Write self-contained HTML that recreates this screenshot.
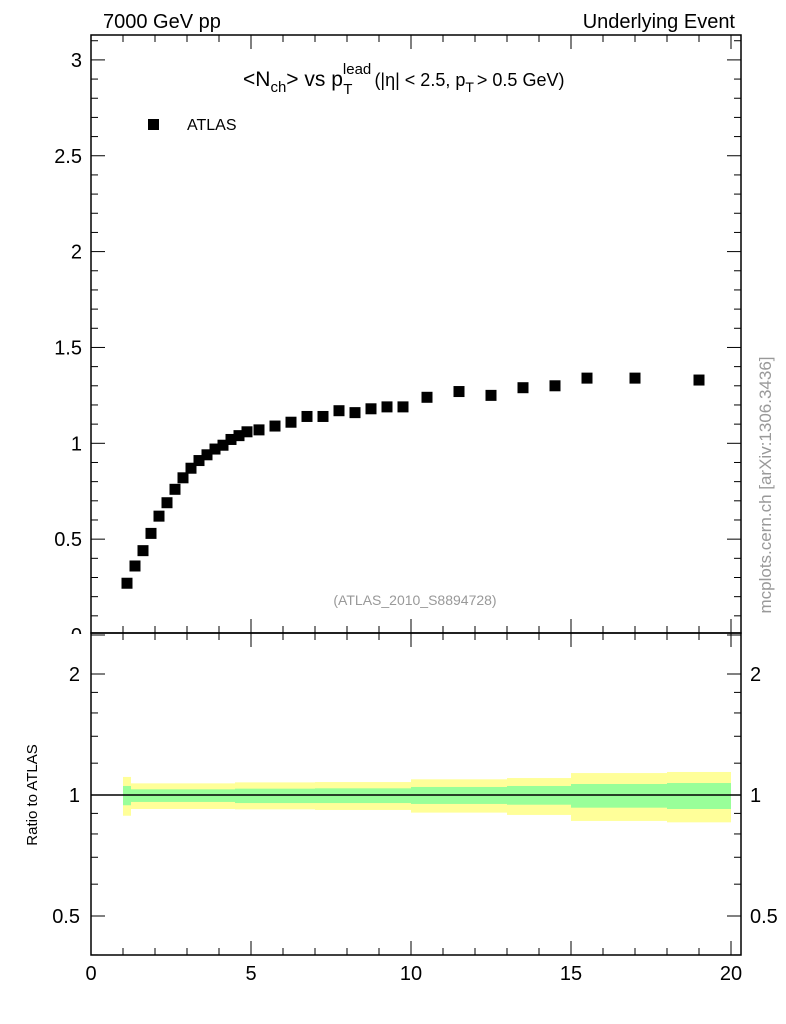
<!DOCTYPE html>
<html><head><meta charset="utf-8"><style>
body{margin:0;background:#fff;}
svg{display:block;font-family:"Liberation Sans",sans-serif;}
</style></head><body>
<svg id="c" width="786" height="1024" xmlns="http://www.w3.org/2000/svg">
<text x="103" y="28" font-size="20">7000 GeV pp</text>
<text x="735" y="28" font-size="20" text-anchor="end">Underlying Event</text>
<text x="243" y="86" font-size="21">&lt;N<tspan font-size="15" dy="6">ch</tspan><tspan dy="-6">&gt; vs p</tspan><tspan font-size="15" dy="-12">lead</tspan><tspan font-size="15" dx="-28" dy="20">T</tspan><tspan font-size="18" dx="22" dy="-8">(|η| &lt; 2.5, p</tspan><tspan font-size="14" dy="6">T</tspan><tspan font-size="18" dx="3" dy="-6">&gt; 0.5 GeV)</tspan></text>
<rect x="148" y="119" width="11" height="11" fill="#000"/>
<text x="187" y="130" font-size="16">ATLAS</text>
<text x="415" y="605" font-size="14" fill="#999" text-anchor="middle">(ATLAS_2010_S8894728)</text>
<text transform="translate(771,485) rotate(-90)" font-size="17" fill="#999" text-anchor="middle">mcplots.cern.ch [arXiv:1306.3436]</text>
<text transform="translate(37,795) rotate(-90)" font-size="15" text-anchor="middle">Ratio to ATLAS</text>
<g id="g"></g>
</svg>
<script>
const xCenters=[1.125,1.375,1.625,1.875,2.125,2.375,2.625,2.875,3.125,3.375,3.625,3.875,4.125,4.375,4.625,4.875,5.25,5.75,6.25,6.75,7.25,7.75,8.25,8.75,9.25,9.75,10.5,11.5,12.5,13.5,14.5,15.5,17,19];
const nch=[0.27,0.36,0.44,0.53,0.62,0.69,0.76,0.82,0.87,0.91,0.94,0.97,0.99,1.02,1.04,1.06,1.07,1.09,1.11,1.14,1.14,1.17,1.16,1.18,1.19,1.19,1.24,1.27,1.25,1.29,1.30,1.34,1.34,1.33];
const bandEdges=[1.0,1.25,4.5,7,10,13,15,18,20];
const yellowHi=[1.109,1.069,1.075,1.077,1.094,1.102,1.134,1.141];
const greenHi=[1.053,1.033,1.037,1.039,1.047,1.053,1.065,1.071];
const greenLo=[0.943,0.961,0.955,0.955,0.950,0.946,0.930,0.923];
const yellowLo=[0.888,0.923,0.921,0.918,0.904,0.892,0.862,0.855];
const xTicks=[0,5,10,15,20];
const yTicks=[0.5,1,1.5,2,2.5,3];
const rTicks=[0.5,1,2];

const L=91,R=741,T=35,M=633,B=955;
const X=v=>L+v*32;
const Y=v=>635-v*191.7;
const RY=v=>795-Math.log2(v)*121;
const g=document.getElementById('g');
const NS='http://www.w3.org/2000/svg';
function el(t,a){const e=document.createElementNS(NS,t);for(const k in a)e.setAttribute(k,a[k]);g.appendChild(e);return e;}

for(let i=0;i<yellowHi.length;i++){
  const x0=X(bandEdges[i]),x1=X(bandEdges[i+1]);
  const y=el('rect',{x:x0,y:RY(yellowHi[i]),width:x1-x0,height:RY(yellowLo[i])-RY(yellowHi[i]),fill:'#ffff99'});
  
  
  const gr=el('rect',{x:x0,y:RY(greenHi[i]),width:x1-x0,height:RY(greenLo[i])-RY(greenHi[i]),fill:'#99ff99'});
  
  
}
const ln=el('line',{x1:L,x2:R,y1:RY(1),y2:RY(1),stroke:'#000','stroke-width':1.5});



[0].concat(yTicks).forEach(v=>{const t=el('text',{x:82,y:Y(v)+7,'font-size':20,'text-anchor':'end'});t.textContent=v;});
const cover=el('rect',{x:60,y:M+1,width:30,height:12,fill:'#fff'});



const f1=el('rect',{x:L,y:T,width:R-L,height:M-T,fill:'none',stroke:'#000','stroke-width':1.5});


const f2=el('rect',{x:L,y:M,width:R-L,height:B-M,fill:'none',stroke:'#000','stroke-width':1.5});



function tick(x1,y1,x2,y2){const t=el('line',{x1,y1,x2,y2,stroke:'#000','stroke-width':1});}
for(let v=0;v<=20.01;v+=1){
  const major=v%5===0, len=major?14:7, x=X(v);
  [T,M].forEach(y=>tick(x,y,x,y+len));
  [M,B].forEach(y=>tick(x,y,x,y-len));
}
xTicks.forEach(v=>{const t=el('text',{x:X(v),y:980,'font-size':20,'text-anchor':'middle'});t.textContent=v;});
for(let i=0;i<=31;i++){
  const v=i/10, y=Y(v); if(y<T)break;
  const major=i%5===0,len=major?14:7;
  tick(L,y,L+len,y);tick(R,y,R-len,y);
}
[0.4,0.5,0.6,0.7,0.8,0.9,1,1.2,1.4,1.6,1.8,2].forEach(v=>{
  const y=RY(v),len=rTicks.includes(v)?14:7;
  tick(L,y,L+len,y);tick(R,y,R-len,y);
});
rTicks.forEach(v=>{
  const a=el('text',{x:80,y:RY(v)+7,'font-size':20,'text-anchor':'end'});a.textContent=v;
  const b=el('text',{x:750,y:RY(v)+7,'font-size':20});b.textContent=v;
});
xCenters.forEach((x,i)=>{
  const p=el('rect',{x:X(x)-5.5,y:Y(nch[i])-5.5,width:11,height:11,fill:'#000'});
  
  
});
</script>
</body></html>
